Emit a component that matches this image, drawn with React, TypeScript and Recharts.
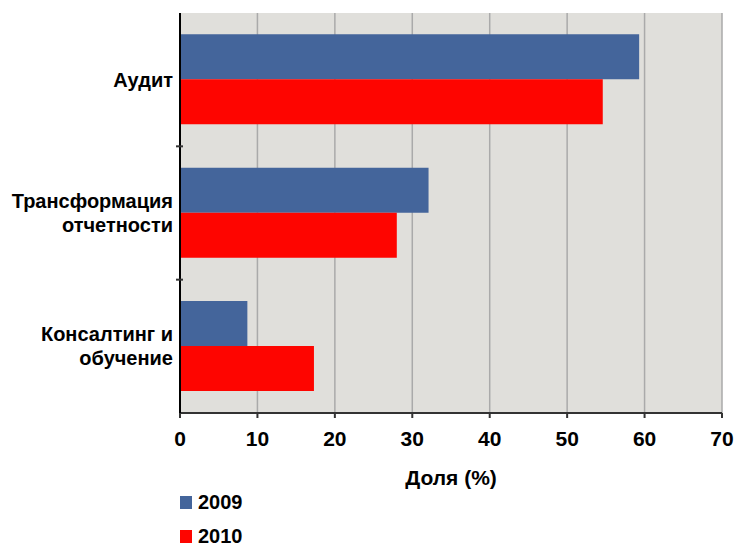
import React from 'react'
import {
  BarChart,
  Bar,
  XAxis,
  YAxis,
  CartesianGrid,
} from 'recharts'

const categories = ['Аудит', 'Трансформация отчетности', 'Консалтинг и обучение']
const categoryLines = [['Аудит'], ['Трансформация', 'отчетности'], ['Консалтинг и', 'обучение']]
const values2009 = [59.3, 32.1, 8.7]
const values2010 = [54.6, 28.0, 17.3]
const xTicks = [0, 10, 20, 30, 40, 50, 60, 70]
const seriesNames = ['2009', '2010']

const BLUE = '#44659b'
const RED = '#fe0500'
const FONT = '"Liberation Sans", Arial, sans-serif'

const data = categories.map((name, i) => ({
  name,
  y2009: values2009[i],
  y2010: values2010[i],
}))

// category label, right aligned, plus a tick mark on the band boundary
function CategoryTick(props: any) {
  const { x, y, payload, index } = props
  const lines: string[] = categoryLines[index] || [payload.value]
  const half = payload.offset || 66.7
  const startY = y - ((lines.length - 1) * 24) / 2
  return (
    <g>
      {lines.map((line, i) => (
        <text
          key={i}
          x={x + 1}
          y={startY + i * 24}
          dy={7}
          textAnchor="end"
          fontFamily={FONT}
          fontWeight="bold"
          fontSize={20}
          fill="#000"
        >
          {line}
        </text>
      ))}
      {index < categories.length - 1 && (
        <line
          x1={x + 4}
          x2={x + 11}
          y1={y + half}
          y2={y + half}
          stroke="#333"
          strokeWidth={2}
        />
      )}
    </g>
  )
}

function LegendBox() {
  const colors = [BLUE, RED]
  return (
    <div style={{ position: 'absolute', left: 180, top: 490, fontFamily: FONT }}>
      {seriesNames.map((s, i) => (
        <div
          key={s}
          style={{ display: 'flex', alignItems: 'center', height: 24, marginBottom: 10 }}
        >
          <span
            style={{ width: 12, height: 13, background: colors[i], display: 'inline-block', marginRight: 6 }}
          />
          <span style={{ fontSize: 20, fontWeight: 'bold', color: '#000' }}>{s}</span>
        </div>
      ))}
    </div>
  )
}

export default function App() {
  return (
    <div style={{ position: 'absolute', left: 0, top: 0, width: 736, height: 546, background: '#fff', overflow: 'hidden' }}>
      <BarChart
        width={736}
        height={546}
        data={data}
        layout="vertical"
        margin={{ top: 13, right: 14, left: 0, bottom: 53 }}
        barGap={0}
        barCategoryGap="16%"
      >
        <CartesianGrid
          horizontal={false}
          vertical
          stroke="#aaaaaa"
          strokeWidth={1.5}
          fill="#e0dfdb"
        />
        <XAxis
          type="number"
          domain={[0, 70]}
          ticks={xTicks}
          interval={0}
          height={80}
          axisLine={{ stroke: '#333', strokeWidth: 2 }}
          tickLine={{ stroke: '#333', strokeWidth: 2 }}
          tickSize={5}
          tickMargin={13}
          tick={{ fill: '#000', fontSize: 21, fontWeight: 'bold', fontFamily: FONT }}
          label={{
            value: 'Доля (%)',
            position: 'insideBottom',
            offset: 8,
            fill: '#000',
            fontSize: 21,
            fontWeight: 'bold',
            fontFamily: FONT,
          }}
        />
        <YAxis
          type="category"
          dataKey="name"
          width={180}
          axisLine={{ stroke: '#000', strokeWidth: 2 }}
          tickLine={false}
          interval={0}
          tick={<CategoryTick />}
        />
        <Bar dataKey="y2009" name={seriesNames[0]} fill={BLUE} isAnimationActive={false} />
        <Bar dataKey="y2010" name={seriesNames[1]} fill={RED} isAnimationActive={false} />
      </BarChart>
      <LegendBox />
    </div>
  )
}
